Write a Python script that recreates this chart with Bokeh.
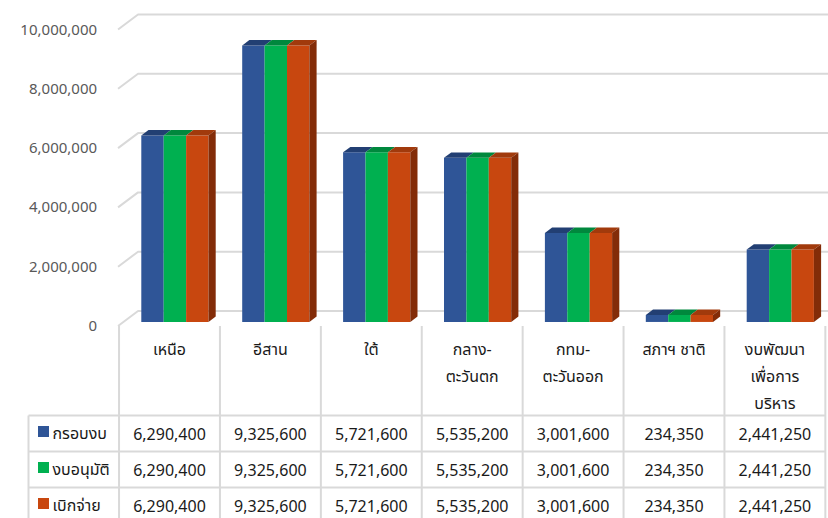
from bokeh.plotting import figure
from bokeh.models import Range1d
from bokeh.core.properties import value
from bokeh.embed import file_html
from bokeh.resources import INLINE

# ---------------- data ----------------
categories = ["เหนือ", "อีสาน", "ใต้", "กลาง-\nตะวันตก", "กทม-\nตะวันออก",
              "สภาฯ ชาติ", "งบพัฒนา\nเพื่อการ\nบริหาร"]
series_names = ["กรอบงบ", "งบอนุมัติ", "เบิกจ่าย"]
frame_budget = [6290400, 9325600, 5721600, 5535200, 3001600, 234350, 2441250]
approved = [6290400, 9325600, 5721600, 5535200, 3001600, 234350, 2441250]
disbursed = [6290400, 9325600, 5721600, 5535200, 3001600, 234350, 2441250]
y_ticks = [0, 2000000, 4000000, 6000000, 8000000, 10000000]
y_tick_labels = ["0", "2,000,000", "4,000,000", "6,000,000", "8,000,000", "10,000,000"]

series_values = [frame_budget, approved, disbursed]
front_colors = ["#2F5597", "#00B050", "#C8470F"]
top_colors = ["#223F73", "#00883D", "#A13A0C"]
side_color = "#832C08"

# ---------------- geometry (pixels) ----------------
W, H = 828, 518
MARGIN = 0
CAT_X0 = 169.0      # page x of first category centre
CAT_PX = 100.9      # pixels per category
BASE_Y = 325.5      # page y of value 0 on the front plane
VAL_PX = 29.65e-6   # pixels per unit of value

def cx(px):
    return px / CAT_PX

def vy(px):
    return px / VAL_PX

def page_y(py):
    return (BASE_Y - py) / VAL_PX

def page_x(px):
    return (px - CAT_X0) / CAT_PX

x0 = page_x(MARGIN)
x1 = page_x(MARGIN + W)
y0 = page_y(MARGIN + H)
y1 = page_y(MARGIN)

DEPTH_DX, DEPTH_DY = cx(20), vy(15)
F0 = 0.27          # depth position of bar front faces
FC = 0.36          # bar depth
BAR_W = cx(22.4)
FRONT_X = -0.5 - cx(1)

FONT = value("Tahoma, 'Noto Sans Thai', 'Leelawadee UI', 'Noto Sans', sans-serif")
GRID = "#d9d9d9"

p = figure(width=W, height=H, x_range=Range1d(x0, x1), y_range=Range1d(y0, y1),
           x_axis_type=None, y_axis_type=None, toolbar_location=None,
           output_backend="svg", min_border=0, outline_line_color=None)
p.grid.visible = False
p.background_fill_color = "white"
p.border_fill_color = "white"

# ---------------- back wall gridlines ----------------
gx, gy = [], []
for v in y_ticks:
    gx.append([FRONT_X, FRONT_X + DEPTH_DX, x1])
    gy.append([v, v + DEPTH_DY, v + DEPTH_DY])
p.multi_line(xs=gx, ys=gy, line_color=GRID, line_width=2)

p.text(x=[FRONT_X - cx(21)] * len(y_ticks), y=y_ticks, text=y_tick_labels,
       text_align="right", text_baseline="middle", text_font=FONT,
       text_font_size="15px", text_color="#595959")

# ---------------- 3D bars ----------------
cdx, cdy = FC * DEPTH_DX, FC * DEPTH_DY
fdx, fdy = F0 * DEPTH_DX, F0 * DEPTH_DY
n = len(categories)
for s, vals in enumerate(series_values):
    lefts = [i - 1.5 * BAR_W + s * BAR_W + fdx for i in range(n)]
    rights = [l + BAR_W for l in lefts]
    tops = [v + fdy for v in vals]
    p.quad(left=lefts, right=rights, bottom=[fdy] * n, top=tops,
           fill_color=front_colors[s], line_color=None)
    p.patches(xs=[[l, r, r + cdx, l + cdx] for l, r in zip(lefts, rights)],
              ys=[[t, t, t + cdy, t + cdy] for t in tops],
              fill_color=top_colors[s], line_color=None)
    if s == len(series_values) - 1:
        p.patches(xs=[[r, r + cdx, r + cdx, r] for r in rights],
                  ys=[[fdy, fdy + cdy, t + cdy, t] for t in tops],
                  fill_color=side_color, line_color=None)

# ---------------- data table ----------------
TABLE_TOP = 415
ROW_H = 36
LEGEND_LEFT = page_x(28)
bottom_y = page_y(TABLE_TOP + ROW_H * 3 + 10)

vx = [[k - 0.5, k - 0.5] for k in range(n + 1)]
vyy = [[0, bottom_y] for _ in range(n + 1)]
vx.append([LEGEND_LEFT, LEGEND_LEFT])
vyy.append([page_y(TABLE_TOP), bottom_y])
hx, hy = [], []
for r in range(4):
    yy = page_y(TABLE_TOP + ROW_H * r)
    hx.append([LEGEND_LEFT, n - 0.5])
    hy.append([yy, yy])
p.multi_line(xs=vx + hx, ys=vyy + hy, line_color=GRID, line_width=2)

# header
hdr_x, hdr_y, hdr_t = [], [], []
for i, c in enumerate(categories):
    for j, line in enumerate(c.split("\n")):
        hdr_x.append(i)
        hdr_y.append(page_y(349 + 27 * j))
        hdr_t.append(line)
p.text(x=hdr_x, y=hdr_y, text=hdr_t, text_align="center", text_baseline="middle",
       text_font=FONT, text_font_size="16px", text_color="#1a1a1a")

# rows
for r, (name, vals) in enumerate(zip(series_names, series_values)):
    yc = TABLE_TOP + ROW_H * r + 18
    p.text(x=list(range(n)), y=[page_y(yc)] * n, text=[f"{v:,}" for v in vals],
           text_align="center", text_baseline="middle", text_font=FONT,
           text_font_size="16px", text_color="#1a1a1a")
    p.scatter(x=[page_x(43)], y=[page_y(yc - 2)], marker="square", size=11,
              fill_color=front_colors[r], line_color=None)
    p.text(x=[page_x(52)], y=[page_y(yc)], text=[name], text_align="left",
           text_baseline="middle", text_font=FONT, text_font_size="16px",
           text_color="#1a1a1a")

open("out.html", "w").write(file_html(p, INLINE))
